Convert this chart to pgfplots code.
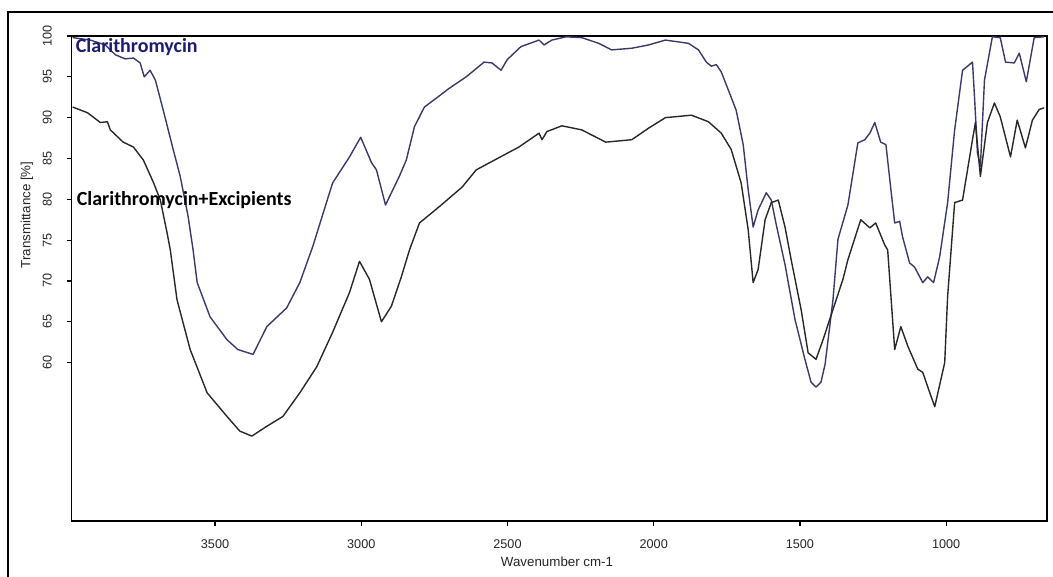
\documentclass[border=0pt]{standalone}
\usepackage{fontspec}
\setmainfont{Liberation Sans}
\newfontfamily\labelfont{Carlito}
\usepackage{pgfplots}
\pgfplotsset{compat=1.18}

\definecolor{pureline}{RGB}{58,58,104}
\definecolor{mixline}{RGB}{40,40,40}
\definecolor{purelabel}{RGB}{28,28,112}

\begin{document}
\begin{tikzpicture}
% page: 1053 x 577 units of 0.75pt
\path[use as bounding box] (0,0) rectangle (789.75pt,432.75pt);
% outer frame
\draw[line width=2.1pt,black] (6pt,-5pt) -- (6pt,423.75pt) -- (800pt,423.75pt);
\begin{axis}[
  at={(53.8pt,42pt)}, anchor=south west,
  scale only axis, width=731.5pt, height=363.75pt,
  x dir=reverse,
  xmin=655, xmax=3990,
  ymin=40.6, ymax=100,
  xtick={1000,1500,2000,2500,3000,3500},
  ytick={60,65,70,75,80,85,90,95,100},
  tick pos=left,
  tick align=outside,
  major tick length=3.75pt,
  axis line style={line width=0.9pt, black},
  every tick/.style={line width=0.9pt, black},
  /pgf/number format/assume math mode=true,
  /pgf/number format/1000 sep={},
  tick label style={font=\fontsize{9.5}{11}\selectfont, text=black!85},
  yticklabel style={xshift=-11pt, rotate=90, anchor=south, inner sep=0pt},
  xticklabel style={anchor=north, inner sep=0pt, yshift=-10pt},
  xlabel={Wavenumber cm-1},
  ylabel={Transmittance [\%]},
  label style={font=\fontsize{10}{12}\selectfont, text=black!85},
  xlabel style={at={(axis description cs:0.4976,0)}, anchor=north, yshift=-27pt, inner sep=0pt},
  ylabel style={at={(axis description cs:-0.0458,0.631)}, anchor=center, inner sep=0pt},
  clip=true,
]
% Clarithromycin
\addplot[pureline, line width=1.05pt, line join=round] coordinates {
(3987,99.8) (3926,99.5) (3875,98.9) (3841,97.7) (3807,97.2) (3779,97.3)
(3756,96.7) (3742,95.0) (3722,95.8) (3704,94.6) (3677,90.9) (3643,86.1)
(3619,82.8) (3592,77.9) (3575,73.8) (3561,69.8) (3517,65.6) (3459,62.8)
(3422,61.6) (3370,61.0) (3323,64.4) (3255,66.7) (3210,69.8) (3166,74.2)
(3098,82.0) (3040,85.2) (3002,87.6) (2965,84.5) (2948,83.6) (2917,79.3)
(2870,82.8) (2846,84.8) (2818,88.9) (2784,91.3) (2743,92.4) (2699,93.6)
(2641,95.0) (2580,96.8) (2553,96.7) (2522,95.8) (2501,97.1) (2454,98.7)
(2392,99.5) (2375,98.9) (2348,99.5) (2300,99.9) (2246,99.8) (2188,99.1)
(2144,98.3) (2075,98.5) (2018,98.9) (1960,99.5) (1881,99.1) (1847,98.3)
(1820,96.8) (1803,96.3) (1786,96.5) (1769,95.6) (1745,93.4) (1718,90.9)
(1694,86.7) (1677,81.2) (1660,76.6) (1643,78.7) (1615,80.8) (1598,79.9)
(1581,76.9) (1551,72.0) (1517,65.3) (1483,60.4) (1462,57.6) (1445,57.0)
(1428,57.6) (1414,59.8) (1387,67.7) (1370,75.1) (1336,79.3) (1302,86.9)
(1278,87.3) (1261,88.1) (1244,89.4) (1224,87.0) (1206,86.7) (1189,81.2)
(1176,77.1) (1159,77.3) (1149,75.4) (1125,72.2) (1108,71.7) (1080,69.8)
(1063,70.5) (1043,69.8) (1022,73.0) (995,79.6) (971,88.5) (944,95.8)
(910,96.8) (903,92.5) (893,85.7) (883,84.0) (869,94.6) (842,99.9)
(815,99.8) (797,96.8) (767,96.7) (750,97.9) (726,94.4) (699,99.8) (665,99.9)
};
% Clarithromycin + excipients
\addplot[mixline, line width=1.05pt, line join=round] coordinates {
(3987,91.3) (3936,90.6) (3892,89.4) (3868,89.5) (3858,88.5) (3814,87.0)
(3779,86.4) (3745,84.8) (3711,82.1) (3687,79.9) (3664,75.9) (3653,73.8)
(3630,67.7) (3585,61.6) (3527,56.3) (3459,53.4) (3415,51.6) (3374,51.0)
(3323,52.2) (3268,53.4) (3210,56.3) (3152,59.5) (3098,63.7) (3040,68.6)
(3006,72.4) (2972,70.2) (2931,65.0) (2897,66.9) (2863,70.5) (2835,73.8)
(2801,77.1) (2733,79.1) (2655,81.5) (2607,83.6) (2529,85.1) (2461,86.4)
(2392,88.1) (2382,87.3) (2365,88.3) (2314,89.0) (2246,88.5) (2164,87.0)
(2075,87.3) (2018,88.7) (1960,90.0) (1871,90.3) (1813,89.5) (1769,88.1)
(1735,86.1) (1701,82.0) (1677,76.3) (1660,69.8) (1643,71.4) (1619,77.5)
(1598,79.6) (1574,79.9) (1551,76.6) (1530,72.6) (1496,66.5) (1472,61.2)
(1445,60.4) (1421,62.8) (1387,66.5) (1353,70.2) (1336,72.6) (1292,77.5)
(1261,76.5) (1241,77.1) (1210,74.4) (1200,73.8) (1176,61.6) (1155,64.4)
(1131,62.0) (1097,59.2) (1080,58.8) (1056,56.3) (1039,54.6) (1005,60.0)
(995,68.1) (971,79.6) (944,79.9) (910,87.3) (900,89.4) (883,82.8)
(859,89.4) (835,91.8) (815,90.1) (780,85.2) (757,89.7) (729,86.3)
(705,89.7) (682,91.0) (665,91.2)
};
\node[anchor=west, inner sep=0pt, text=purelabel, font=\labelfont\bfseries\fontsize{15}{17}\selectfont]
  at (rel axis cs:0.004,0.977) {Clarithromycin};
\node[anchor=west, inner sep=0pt, text=black, font=\labelfont\bfseries\fontsize{15}{17}\selectfont]
  at (rel axis cs:0.005,0.662) {Clarithromycin+Excipients};
\end{axis}
\end{tikzpicture}
\end{document}
